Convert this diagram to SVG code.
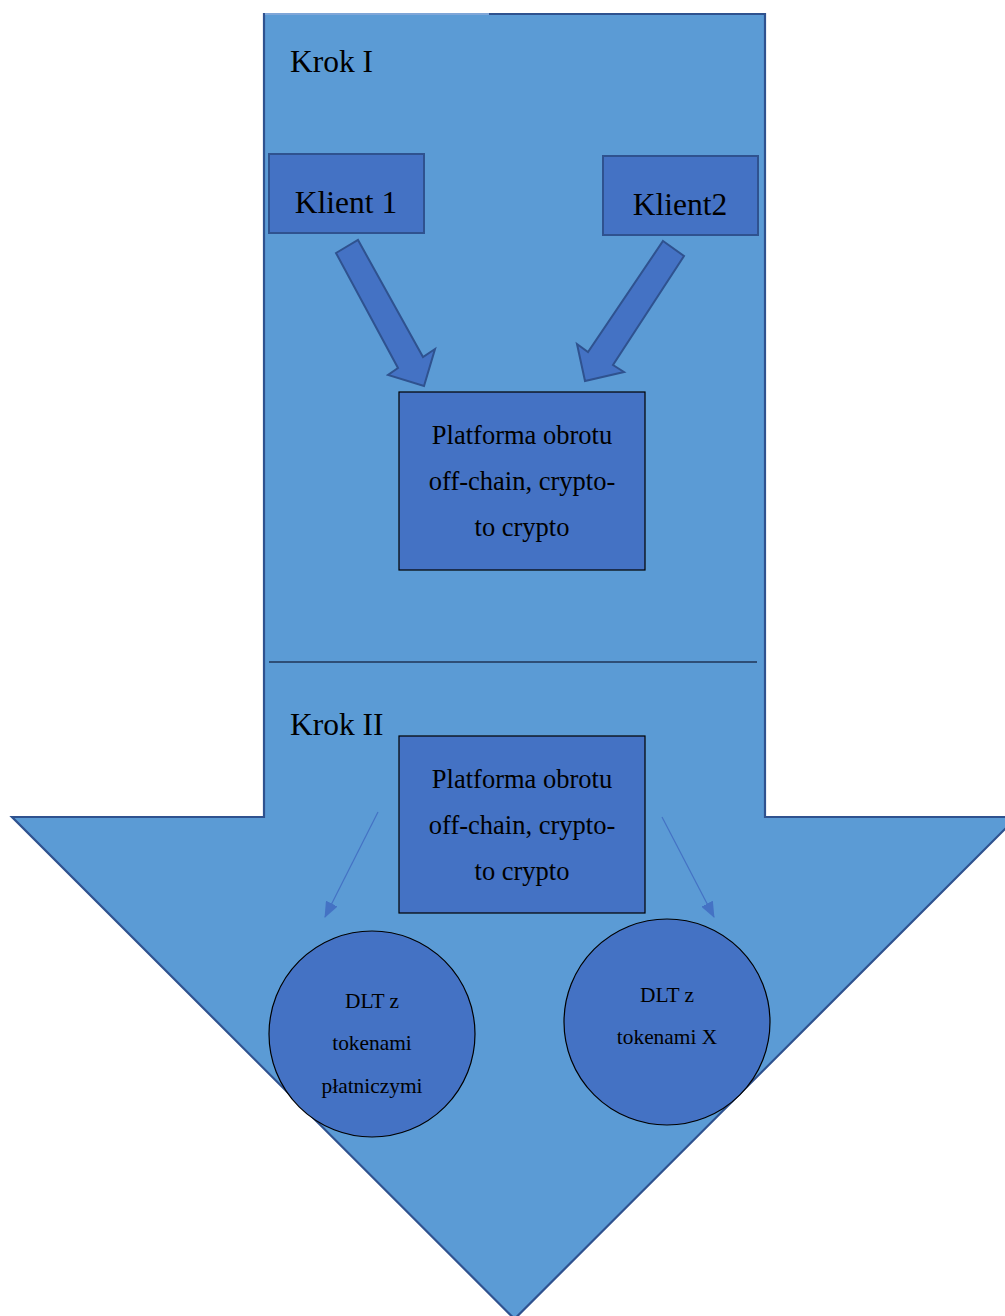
<svg xmlns="http://www.w3.org/2000/svg" width="1005" height="1316" viewBox="0 0 1005 1316">
  <style>
    .big { fill: #5B9BD5; stroke: #2F528F; stroke-width: 2.2; }
    .box { fill: #4472C4; stroke: #2F528F; stroke-width: 2; }
    .plat { fill: #4472C4; stroke: #000; stroke-width: 1.2; }
    .circ { fill: #4472C4; stroke: #000; stroke-width: 1.2; }
    .blk { fill: #4472C4; stroke: #2F528F; stroke-width: 2; stroke-linejoin: miter; }
    .thin { stroke: #4472C4; stroke-width: 1.2; fill: none; }
    text { font-family: "Liberation Serif", "Times New Roman", serif; fill: #000; }
    .step { font-size: 31.5px; }
    .client { font-size: 31.5px; text-anchor: middle; }
    .ptxt { font-size: 26.5px; text-anchor: middle; }
    .ctxt { font-size: 21.4px; text-anchor: middle; }
  </style>
  <defs>
    <marker id="tri" viewBox="0 0 16 13" refX="15" refY="6.5" markerWidth="16" markerHeight="13" markerUnits="userSpaceOnUse" orient="auto">
      <path d="M0,0 L16,6.5 L0,13 z" fill="#4472C4"/>
    </marker>
  </defs>

  <!-- large downward arrow background -->
  <g id="big-arrow">
    <polygon class="big" points="264,14 765,14 765,817 1017,817 514.5,1319 12,817 264,817"/>
    <line x1="265" y1="14" x2="489" y2="14" stroke="#7FA6D8" stroke-width="2.2"/>
  </g>

  <line id="divider" x1="269" y1="662" x2="757" y2="662" stroke="#1F3556" stroke-width="1.5"/>

  <g id="krok1"><text class="step" x="290" y="72">Krok I</text></g>
  <g id="krok2"><text class="step" x="290" y="735">Krok II</text></g>

  <g id="klient1">
    <rect class="box" x="269" y="154" width="155" height="79"/>
    <text class="client" x="346" y="213">Klient 1</text>
  </g>
  <g id="klient2">
    <rect class="box" x="603" y="156" width="155" height="79"/>
    <text class="client" x="680" y="215">Klient2</text>
  </g>

  <g id="platforma1">
    <rect class="plat" x="399" y="392" width="246" height="178"/>
    <text class="ptxt" x="522" y="444">Platforma obrotu</text>
    <text class="ptxt" x="522" y="490">off-chain, crypto-</text>
    <text class="ptxt" x="522" y="536">to crypto</text>
  </g>

  <g id="platforma2">
    <rect class="plat" x="399" y="736" width="246" height="177"/>
    <text class="ptxt" x="522" y="788">Platforma obrotu</text>
    <text class="ptxt" x="522" y="834">off-chain, crypto-</text>
    <text class="ptxt" x="522" y="880">to crypto</text>
  </g>

  <g id="dlt-platnicze">
    <circle class="circ" cx="372" cy="1034" r="103"/>
    <text class="ctxt" x="372" y="1008">DLT z</text>
    <text class="ctxt" x="372" y="1050">tokenami</text>
    <text class="ctxt" x="372" y="1093">płatniczymi</text>
  </g>

  <g id="dlt-x">
    <circle class="circ" cx="667" cy="1022" r="103"/>
    <text class="ctxt" x="667" y="1002">DLT z</text>
    <text class="ctxt" x="667" y="1044">tokenami X</text>
  </g>

  <g id="connectors">
    <polygon class="blk" points="336,253 358,240 423,357 435,349 424,386 388,375 398,368"/>
    <polygon class="blk" points="663,241 684,256 613,365 624,372 585,381 577,344 588,352"/>
    <line class="thin" x1="378" y1="812" x2="325" y2="917" marker-end="url(#tri)"/>
    <line class="thin" x1="662" y1="817" x2="714" y2="917" marker-end="url(#tri)"/>
  </g>
</svg>
